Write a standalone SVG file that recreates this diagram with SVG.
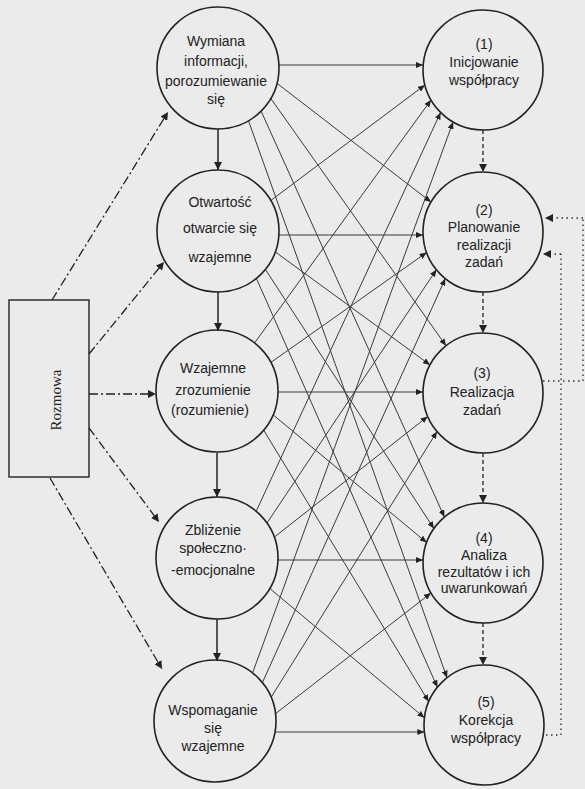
<svg xmlns="http://www.w3.org/2000/svg" width="585" height="789" viewBox="0 0 585 789">
<defs>
<style>
.bg{fill:#ebebeb}
.node circle{fill:none;stroke:#222;stroke-width:1.6}
.node text{font-family:"Liberation Sans",Arial,sans-serif;font-size:14px;fill:#222;text-anchor:middle}
.box rect{fill:none;stroke:#222;stroke-width:1.4}
.box text{font-family:"Liberation Serif","Times New Roman",serif;font-size:15px;fill:#222;text-anchor:middle}
.ln{stroke:#3a3a3a;stroke-width:1;fill:none;marker-end:url(#ah)}
.vs{stroke:#222;stroke-width:1.5;fill:none;marker-end:url(#ah2)}
.vd{stroke:#222;stroke-width:1.3;fill:none;stroke-dasharray:4 3;marker-end:url(#ah2)}
.dd{stroke:#222;stroke-width:1.3;fill:none;stroke-dasharray:9 3 2 3;marker-end:url(#ah2)}
.dt{stroke:#333;stroke-width:1.4;fill:none;stroke-dasharray:1.5 3.5}
.dta{stroke:#333;stroke-width:1.4;fill:none;stroke-dasharray:1.5 3.5;marker-end:url(#ah2)}
</style>
<marker id="ah" markerWidth="8" markerHeight="6" refX="7" refY="3" orient="auto" markerUnits="userSpaceOnUse"><path d="M0,0 L7,3 L0,6 z" fill="#222"/></marker>
<marker id="ah2" markerWidth="9" markerHeight="8" refX="8" refY="4" orient="auto" markerUnits="userSpaceOnUse"><path d="M0,0 L8,4 L0,8 z" fill="#222"/></marker>
</defs>
<rect class="bg" x="0" y="0" width="585" height="789"/>

<g id="connectors">
<!-- horizontals -->
<line class="ln" x1="279" y1="65" x2="423" y2="65"/>
<line class="ln" x1="279" y1="235" x2="423" y2="235"/>
<line class="ln" x1="278" y1="392" x2="423" y2="392"/>
<line class="ln" x1="278" y1="560" x2="423" y2="560"/>
<line class="ln" x1="275" y1="732" x2="424.4" y2="732"/>
<!-- from 1 -->
<line class="ln" x1="277" y1="83.3" x2="431" y2="202"/>
<line class="ln" x1="270.8" y1="98.5" x2="446" y2="345.7"/>
<line class="ln" x1="261.1" y1="111.1" x2="444.4" y2="517"/>
<line class="ln" x1="248.5" y1="120.8" x2="447" y2="677.7"/>
<!-- from 2 -->
<line class="ln" x1="270.8" y1="200.5" x2="424.9" y2="85"/>
<line class="ln" x1="275.3" y1="251.9" x2="430" y2="364.9"/>
<line class="ln" x1="265.4" y1="269.4" x2="433.9" y2="528.6"/>
<line class="ln" x1="256.4" y1="278.4" x2="437.4" y2="687.3"/>
<!-- from 3 -->
<line class="ln" x1="254.6" y1="342.9" x2="431" y2="100"/>
<line class="ln" x1="270.9" y1="362.4" x2="426.6" y2="252.5"/>
<line class="ln" x1="273.2" y1="414.9" x2="426.6" y2="542.5"/>
<line class="ln" x1="263.7" y1="430.2" x2="428.7" y2="701.6"/>
<!-- from 4 -->
<line class="ln" x1="256.2" y1="511.3" x2="440.6" y2="112.4"/>
<line class="ln" x1="267" y1="523" x2="436.4" y2="269.7"/>
<line class="ln" x1="274.3" y1="537.1" x2="427.7" y2="416.5"/>
<line class="ln" x1="269.8" y1="588.5" x2="424.4" y2="717.7"/>
<!-- from 5 -->
<line class="ln" x1="252.6" y1="672.9" x2="453" y2="122"/>
<line class="ln" x1="262.4" y1="682.6" x2="445.3" y2="278.6"/>
<line class="ln" x1="271.2" y1="697.1" x2="437" y2="431.6"/>
<line class="ln" x1="275.6" y1="713.6" x2="431" y2="593"/>
<!-- left vertical arrows -->
<line class="vs" x1="218" y1="129" x2="218" y2="170"/>
<line class="vs" x1="218" y1="292" x2="218" y2="331"/>
<line class="vs" x1="217" y1="453" x2="217" y2="497"/>
<line class="vs" x1="217" y1="619" x2="217" y2="661"/>
<!-- right dashed arrows -->
<line class="vd" x1="483" y1="130" x2="483" y2="172"/>
<line class="vd" x1="483" y1="292" x2="483" y2="333"/>
<line class="vd" x1="483" y1="453" x2="483" y2="503"/>
<line class="vd" x1="483" y1="623" x2="483" y2="665"/>
<!-- Rozmowa dash-dot arrows -->
<line class="dd" x1="52" y1="300" x2="168" y2="112"/>
<line class="dd" x1="89" y1="354" x2="164" y2="262"/>
<line class="dd" x1="89" y1="394" x2="156" y2="394"/>
<line class="dd" x1="89" y1="428" x2="159" y2="522"/>
<line class="dd" x1="50" y1="478" x2="162" y2="669"/>
<!-- feedback dotted -->
<polyline class="dt" points="543,381 583,381 583,218"/>
<line class="dta" x1="583" y1="218" x2="545" y2="218"/>
<polyline class="dt" points="546,735 561,735 561,254"/>
<line class="dta" x1="561" y1="254" x2="543" y2="254"/>
</g>

<g id="rozmowa" class="box">
<rect x="9" y="300" width="80" height="177"/>
<text transform="translate(61,400) rotate(-90)">Rozmowa</text>
</g>

<g id="l1" class="node"><circle cx="218" cy="68" r="61"/>
<text x="216" y="46">Wymiana</text><text x="216" y="66">informacji,</text><text x="216" y="86">porozumiewanie</text><text x="216" y="104">się</text></g>
<g id="l2" class="node"><circle cx="218" cy="231" r="61"/>
<text x="220" y="207">Otwartość</text><text x="220" y="233">otwarcie się</text><text x="220" y="262">wzajemne</text></g>
<g id="l3" class="node"><circle cx="217" cy="391" r="61"/>
<text x="213" y="373">Wzajemne</text><text x="213" y="395">zrozumienie</text><text x="210" y="415">(rozumienie)</text></g>
<g id="l4" class="node"><circle cx="217" cy="558" r="61"/>
<text x="213" y="535">Zbliżenie</text><text x="213" y="553">społeczno·</text><text x="213" y="575">-emocjonalne</text></g>
<g id="l5" class="node"><circle cx="215" cy="721" r="61"/>
<text x="213" y="715">Wspomaganie</text><text x="213" y="733">się</text><text x="213" y="751">wzajemne</text></g>

<g id="r1" class="node"><circle cx="483" cy="70" r="60"/>
<text x="484" y="49">(1)</text><text x="484" y="67">Inicjowanie</text><text x="484" y="85">współpracy</text></g>
<g id="r2" class="node"><circle cx="483" cy="232" r="60"/>
<text x="484" y="215">(2)</text><text x="484" y="232">Planowanie</text><text x="484" y="250">realizacji</text><text x="484" y="267">zadań</text></g>
<g id="r3" class="node"><circle cx="483" cy="393" r="60"/>
<text x="482" y="378">(3)</text><text x="482" y="397">Realizacja</text><text x="482" y="415">zadań</text></g>
<g id="r4" class="node"><circle cx="483" cy="563" r="60"/>
<text x="484" y="543">(4)</text><text x="484" y="560">Analiza</text><text x="484" y="577">rezultatów i ich</text><text x="484" y="593">uwarunkowań</text></g>
<g id="r5" class="node"><circle cx="484" cy="725" r="60"/>
<text x="486" y="707">(5)</text><text x="486" y="725">Korekcja</text><text x="486" y="743">współpracy</text></g>
</svg>
